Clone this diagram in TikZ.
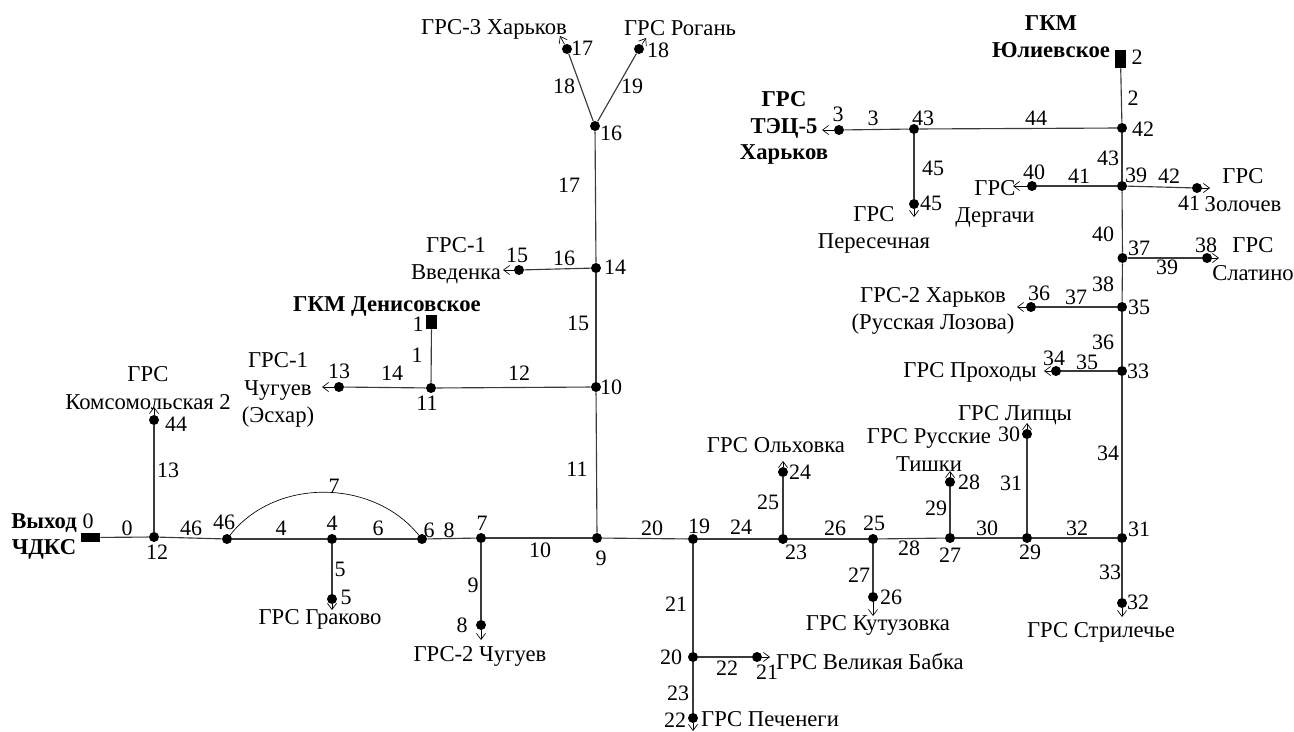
\documentclass[tikz,border=0pt]{standalone}
\usepackage{fontspec}
\setmainfont{Liberation Serif}
\usetikzlibrary{arrows.meta}
\definecolor{pipegrey}{HTML}{3A3A3A}

\begin{document}
\begin{tikzpicture}[
  x=0.75pt,y=-0.75pt,
  junct/.style={circle,fill=black,inner sep=0pt,minimum size=7.5pt},
  srcbox/.style={fill=black,inner sep=0pt},
  num/.style={inner sep=0pt,font=\fontsize{16.5}{20.5}\selectfont},
  station/.style={inner sep=0pt,align=center,font=\fontsize{17}{20.5}\selectfont},
  field/.style={inner sep=0pt,align=center,font=\bfseries\fontsize{17}{20}\selectfont},
  pipe/.style={draw=pipegrey,line width=0.85pt},
  outlet/.style={-{Straight Barb[length=1.6mm,width=2.4mm]},draw=black,line width=0.5pt}]
\useasboundingbox (0,0) rectangle (1294,731);

\node[srcbox,minimum width=14.25pt,minimum height=6.75pt] (src0) at (90.5,537.5) {};
\node[srcbox,minimum width=8.25pt,minimum height=10.5pt] (src1) at (431.5,322) {};
\node[srcbox,minimum width=8.25pt,minimum height=13.5pt] (src2) at (1120.5,59) {};

\node[junct] (j12) at (154,537) {};
\node[junct] (j44) at (154,420) {};
\node[junct] (j46) at (227,539) {};
\node[junct] (j4) at (332,539) {};
\node[junct] (j6) at (422,539) {};
\node[junct] (j5) at (332,599) {};
\node[junct] (j7) at (481,538) {};
\node[junct] (j8) at (481,625) {};
\node[junct] (j9) at (597,538) {};
\node[junct] (j10) at (596,387) {};
\node[junct] (j11) at (431,388) {};
\node[junct] (j13) at (339,387) {};
\node[junct] (j14) at (596,268) {};
\node[junct] (j15) at (519,270) {};
\node[junct] (j16) at (595,126) {};
\node[junct] (j17) at (567,49) {};
\node[junct] (j18) at (639,49) {};
\node[junct] (j19) at (693,539) {};
\node[junct] (j20) at (693,657) {};
\node[junct] (j21) at (757,657) {};
\node[junct] (j22) at (693,718) {};
\node[junct] (j23) at (783,539) {};
\node[junct] (j24) at (783,472) {};
\node[junct] (j25) at (873,539) {};
\node[junct] (j26) at (873,597) {};
\node[junct] (j27) at (950,538) {};
\node[junct] (j28) at (950,482) {};
\node[junct] (j29) at (1027,538) {};
\node[junct] (j30) at (1027,434) {};
\node[junct] (j31) at (1122,538) {};
\node[junct] (j32) at (1122,603) {};
\node[junct] (j33) at (1122,371) {};
\node[junct] (j34) at (1056,371) {};
\node[junct] (j35) at (1122,307) {};
\node[junct] (j36) at (1031,307) {};
\node[junct] (j37) at (1122.5,258) {};
\node[junct] (j38) at (1207,258) {};
\node[junct] (j39) at (1122,186) {};
\node[junct] (j40) at (1032,186) {};
\node[junct] (j41) at (1197,188) {};
\node[junct] (j42) at (1122,128) {};
\node[junct] (j43) at (914,129) {};
\node[junct] (j3) at (839,130) {};
\node[junct] (j45) at (914,204) {};

\coordinate (out44) at (154,407);
\coordinate (out5) at (332,610);
\coordinate (out8) at (481,640);
\coordinate (out13) at (322,387);
\coordinate (out15) at (503,270);
\coordinate (out17) at (560,36);
\coordinate (out18) at (646,38);
\coordinate (out21) at (770,657);
\coordinate (out22) at (693,731);
\coordinate (out24) at (783,461);
\coordinate (out26) at (873,616);
\coordinate (out28) at (950,471);
\coordinate (out30) at (1027,423);
\coordinate (out32) at (1122,617);
\coordinate (out34) at (1044,371);
\coordinate (out36) at (1017,307);
\coordinate (out38) at (1219,258);
\coordinate (out40) at (1013,186);
\coordinate (out41) at (1210,188);
\coordinate (out3) at (822,130);
\coordinate (out45) at (914,217);

\draw[pipe] (src0) -- (j12);
\draw[pipe] (j12) -- (j46);
\draw[pipe] (j12) -- (j44);
\draw[pipe] (j46) -- (j4);
\draw[pipe] (j4) -- (j6);
\draw[pipe] (j4) -- (j5);
\draw[pipe] (j6) -- (j7);
\draw[pipe] (j7) -- (j8);
\draw[pipe] (j7) -- (j9);
\draw[pipe] (j9) -- (j10);
\draw[pipe] (j10) -- (j11);
\draw[pipe] (j11) -- (j13);
\draw[pipe] (j11) -- (src1);
\draw[pipe] (j10) -- (j14);
\draw[pipe] (j14) -- (j15);
\draw[pipe] (j14) -- (j16);
\draw[pipe] (j16) -- (j17);
\draw[pipe] (j16) -- (j18);
\draw[pipe] (j9) -- (j19);
\draw[pipe] (j19) -- (j20);
\draw[pipe] (j20) -- (j21);
\draw[pipe] (j20) -- (j22);
\draw[pipe] (j19) -- (j23);
\draw[pipe] (j23) -- (j24);
\draw[pipe] (j23) -- (j25);
\draw[pipe] (j25) -- (j26);
\draw[pipe] (j25) -- (j27);
\draw[pipe] (j27) -- (j28);
\draw[pipe] (j27) -- (j29);
\draw[pipe] (j29) -- (j30);
\draw[pipe] (j29) -- (j31);
\draw[pipe] (j31) -- (j32);
\draw[pipe] (j31) -- (j33);
\draw[pipe] (j33) -- (j34);
\draw[pipe] (j33) -- (j35);
\draw[pipe] (j35) -- (j36);
\draw[pipe] (j35) -- (j37);
\draw[pipe] (j37) -- (j38);
\draw[pipe] (j37) -- (j39);
\draw[pipe] (j39) -- (j40);
\draw[pipe] (j39) -- (j41);
\draw[pipe] (j39) -- (j42);
\draw[pipe] (j42) -- (j43);
\draw[pipe] (j43) -- (j3);
\draw[pipe] (j43) -- (j45);
\draw[pipe] (j42) -- (src2);
\draw[draw=black,line width=0.5pt] (j46) .. controls (275,478) and (372,478) .. (j6);

\draw[outlet] (j44) -- (out44);
\draw[outlet] (j5) -- (out5);
\draw[outlet] (j8) -- (out8);
\draw[outlet] (j13) -- (out13);
\draw[outlet] (j15) -- (out15);
\draw[outlet] (j17) -- (out17);
\draw[outlet] (j18) -- (out18);
\draw[outlet] (j21) -- (out21);
\draw[outlet] (j22) -- (out22);
\draw[outlet] (j24) -- (out24);
\draw[outlet] (j26) -- (out26);
\draw[outlet] (j28) -- (out28);
\draw[outlet] (j30) -- (out30);
\draw[outlet] (j32) -- (out32);
\draw[outlet] (j34) -- (out34);
\draw[outlet] (j36) -- (out36);
\draw[outlet] (j38) -- (out38);
\draw[outlet] (j40) -- (out40);
\draw[outlet] (j41) -- (out41);
\draw[outlet] (j3) -- (out3);
\draw[outlet] (j45) -- (out45);

\node[num] (lsrc0) at (88,521) {0};
\node[num] (lsrc1) at (418,324) {1};
\node[num] (lsrc2) at (1137,57) {2};
\node[num] (l12) at (157,552) {12};
\node[num] (l44) at (176,424) {44};
\node[num] (l46) at (224,522) {46};
\node[num] (l4) at (332,523) {4};
\node[num] (l5) at (346,597) {5};
\node[num] (l6) at (429,530) {6};
\node[num] (l7) at (482,523) {7};
\node[num] (l8) at (462,625) {8};
\node[num] (l9) at (601,558) {9};
\node[num] (l10) at (611,387) {10};
\node[num] (l11) at (427,403) {11};
\node[num] (l13) at (339,371) {13};
\node[num] (l14) at (615,267) {14};
\node[num] (l15) at (517,255) {15};
\node[num] (l16) at (611,133) {16};
\node[num] (l17) at (582,48) {17};
\node[num] (l18) at (658,50) {18};
\node[num] (l19) at (699,526) {19};
\node[num] (l20) at (671,657) {20};
\node[num] (l21) at (767,672) {21};
\node[num] (l22) at (675,720) {22};
\node[num] (l23) at (796,552) {23};
\node[num] (l24) at (800,472) {24};
\node[num] (l25) at (874,523) {25};
\node[num] (l26) at (891,597) {26};
\node[num] (l27) at (950,555) {27};
\node[num] (l28) at (969,482) {28};
\node[num] (l29) at (1030,552) {29};
\node[num] (l30) at (1009,434) {30};
\node[num] (l31) at (1139,529) {31};
\node[num] (l32) at (1138,602) {32};
\node[num] (l33) at (1138,371) {33};
\node[num] (l34) at (1054,358) {34};
\node[num] (l35) at (1139,307) {35};
\node[num] (l36) at (1039,293) {36};
\node[num] (l37) at (1139,248) {37};
\node[num] (l38) at (1206,245) {38};
\node[num] (l39) at (1136,175) {39};
\node[num] (l40) at (1034,172) {40};
\node[num] (l41) at (1189,203) {41};
\node[num] (l42) at (1143,129) {42};
\node[num] (l43) at (923,118) {43};
\node[num] (l3) at (838,114) {3};
\node[num] (l45) at (931,203) {45};

\node[num] (e0) at (127,528) {0};
\node[num] (e1) at (417,355) {1};
\node[num] (e2) at (1133,98) {2};
\node[num] (e3) at (873,118) {3};
\node[num] (e4) at (281,528) {4};
\node[num] (e5) at (340,569) {5};
\node[num] (e6) at (378,528) {6};
\node[num] (e7) at (334,486) {7};
\node[num] (e8) at (449,530) {8};
\node[num] (e9) at (473,585) {9};
\node[num] (e10) at (540,550) {10};
\node[num] (e11) at (577,469) {11};
\node[num] (e12) at (519,373) {12};
\node[num] (e13) at (168,470) {13};
\node[num] (e14) at (392,373) {14};
\node[num] (e15) at (578,323) {15};
\node[num] (e16) at (564,258) {16};
\node[num] (e17) at (569,185) {17};
\node[num] (e18) at (564,86) {18};
\node[num] (e19) at (632,86) {19};
\node[num] (e20) at (652,528) {20};
\node[num] (e21) at (676,604) {21};
\node[num] (e22) at (727,668) {22};
\node[num] (e23) at (678,693) {23};
\node[num] (e24) at (741,527) {24};
\node[num] (e25) at (768,502) {25};
\node[num] (e26) at (835,528) {26};
\node[num] (e27) at (859,575) {27};
\node[num] (e28) at (909,548) {28};
\node[num] (e29) at (936,508) {29};
\node[num] (e30) at (987,528) {30};
\node[num] (e31) at (1011,483) {31};
\node[num] (e32) at (1077,528) {32};
\node[num] (e33) at (1110,572) {33};
\node[num] (e34) at (1108,453) {34};
\node[num] (e35) at (1087,362) {35};
\node[num] (e36) at (1103,342) {36};
\node[num] (e37) at (1076,297) {37};
\node[num] (e38) at (1103,284) {38};
\node[num] (e39) at (1167,267) {39};
\node[num] (e40) at (1103,234) {40};
\node[num] (e41) at (1079,176) {41};
\node[num] (e42) at (1169,176) {42};
\node[num] (e43) at (1108,158) {43};
\node[num] (e44) at (1036,118) {44};
\node[num] (e45) at (933,168) {45};
\node[num] (e46) at (191,528) {46};

\node[field] (chdks) at (44,536.5) {Выход\\ЧДКС};
\node[field] (denis) at (387,306) {ГКМ Денисовское};
\node[field] (yuliev) at (1051,36.5) {ГКМ\\Юлиевское};
\node[field] (tec5) at (784,128) {ГРС\\ТЭЦ-5\\Харьков};

\node[station] (komsom) at (148,388) {ГРС\\Комсомольская 2};
\node[station] (chuguev1) at (278,390) {ГРС-1\\Чугуев\\(Эсхар)};
\node[station] (grakovo) at (320,619) {ГРС Граково};
\node[station] (chuguev2) at (480,656) {ГРС-2 Чугуев};
\node[station] (vvedenka) at (456,261) {ГРС-1\\Введенка};
\node[station] (kharkov3) at (494,29) {ГРС-3 Харьков};
\node[station] (rogan) at (680,28) {ГРС Рогань};
\node[station] (peresech) at (874,230) {ГРС\\Пересечная};
\node[station] (dergachi) at (995,204) {ГРС\\Дергачи};
\node[station] (zolochev) at (1243,190) {ГРС\\Золочев};
\node[station] (slatino) at (1253,259) {ГРС\\Слатино};
\node[station] (kharkov2) at (933,311) {ГРС-2 Харьков\\(Русская Лозова)};
\node[station] (prohody) at (970,372) {ГРС Проходы};
\node[station] (lipcy) at (1015,415) {ГРС Липцы};
\node[station] (tishki) at (929,450) {ГРС Русские\\Тишки};
\node[station] (olhovka) at (776,445) {ГРС Ольховка};
\node[station] (kutuzovka) at (878,625) {ГРС Кутузовка};
\node[station] (strilechie) at (1101,632) {ГРС Стрилечье};
\node[station] (babka) at (870,661) {ГРС Великая Бабка};
\node[station] (pechenegi) at (770,719) {ГРС Печенеги};
\end{tikzpicture}
\end{document}
